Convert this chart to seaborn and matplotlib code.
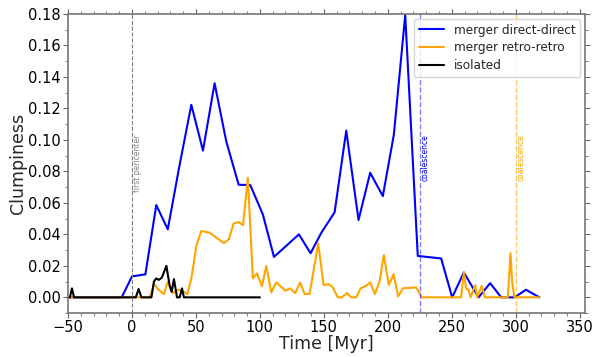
import matplotlib
matplotlib.use("Agg")
import matplotlib.pyplot as plt
import seaborn as sns
from matplotlib.ticker import MultipleLocator

# ---- data ----
t_direct = [-50, -8, 0, 10.5, 19, 28, 37, 46.4, 55.5, 64.6, 73.7, 83.4, 92.5, 102.3, 111, 120.6,
            130.5, 139.6, 148, 158.4, 167.5, 177.1, 186.2, 196.1, 204.7, 213.6, 223.4, 241.7,
            250.3, 259.4, 270.9, 280, 288.6, 299, 308, 318.5]
c_direct = [0, 0, 0.0133, 0.0146, 0.0586, 0.0432, 0.083, 0.1223, 0.0932, 0.136, 0.0991, 0.0715,
            0.0713, 0.0527, 0.0257, 0.0327, 0.040, 0.028, 0.041, 0.054, 0.1059, 0.0491, 0.0791,
            0.0643, 0.1033, 0.1793, 0.0263, 0.0247, 0.0, 0.0158, 0.0, 0.009, 0.0, 0.0, 0.0048, 0.0]

t_retro = [-50, 14, 17.2, 20.8, 25, 28, 32, 36, 39.4, 43.3, 46.6, 50.3, 54.2, 60.7, 71.9, 75.8,
           79.5, 83.4, 86.8, 90.6, 94.5, 97.7, 101.6, 105, 108.9, 112.8, 120, 123.7, 127.6,
           131.5, 134.9, 138.8, 145.6, 149.8, 153.7, 157, 160.9, 164, 168, 171.4, 175.3, 178.7,
           183.1, 186.2, 189.9, 193.5, 196.9, 200.8, 204.5, 208.1, 211.7, 222.2, 226.6, 257.3,
           259.4, 261.3, 263, 264.7, 268.3, 269.8, 273.4, 276, 293.8, 295.9, 297.2, 299, 318.5]
c_retro = [0, 0, 0.0084, 0.0048, 0.0021, 0.0099, 0.0027, 0.0048, 0.0042, 0.002, 0.0127, 0.0327,
           0.0421, 0.0411, 0.0344, 0.0369, 0.047, 0.0478, 0.0458, 0.0759, 0.012, 0.0152, 0.007,
           0.02, 0.0032, 0.0095, 0.0042, 0.0057, 0.0027, 0.0095, 0.0021, 0.0021, 0.0342, 0.0078,
           0.0084, 0.0063, 0.0, 0.0, 0.0027, 0.0, 0.0, 0.0057, 0.0073, 0.0095, 0.0021, 0.0099,
           0.0268, 0.0078, 0.0147, 0.0006, 0.0057, 0.0063, 0.0, 0.0, 0.0158, 0.0053, 0.005, 0.0,
           0.0078, 0.0, 0.0073, 0.0, 0.0, 0.028, 0.0095, 0.0, 0.0]

t_iso = [-50, -48.5, -46.9, -45.3, 3, 5.2, 7.4, 15.2, 17.2, 19, 21.1, 23.4, 26.9, 29.5, 31, 32.8,
         35.2, 37.3, 39.1, 40.6, 100]
c_iso = [0, 0, 0.0057, 0, 0, 0.0053, 0, 0, 0.0101, 0.012, 0.0111, 0.0126, 0.02, 0.0073, 0.0035,
         0.0116, 0, 0, 0.0057, 0, 0]

labels = ["merger direct-direct", "merger retro-retro", "isolated"]
colors = ["#0000ff", "#ffa500", "#000000"]

# ---- plot ----
sns.set_style("ticks")
plt.rcParams["font.family"] = ["DejaVu Sans"]

fig = plt.figure(figsize=(5.98, 3.57), dpi=100)
ax = fig.add_axes([0.1137, 0.123, 0.978 - 0.1137, 0.961 - 0.123])

for t, c, lab, col in zip([t_direct, t_retro, t_iso], [c_direct, c_retro, c_iso], labels, colors):
    sns.lineplot(x=t, y=c, ax=ax, color=col, label=lab, linewidth=1.5,
                 estimator=None, sort=False)

ax.axvline(0, color="gray", linestyle="--", linewidth=0.8)
ax.text(1, 0.1035, "first pericenter", rotation=90, color="gray", fontsize=5.5,
        va="top", ha="left")
ax.axvline(225, color="blue", linestyle="--", linewidth=1.0, alpha=0.5)
ax.text(226, 0.1035, "coalescence", rotation=90, color="blue", fontsize=5.5,
        va="top", ha="left")
ax.axvline(300, color="orange", linestyle="--", linewidth=1.0, alpha=0.6)
ax.text(301, 0.1035, "coalescence", rotation=90, color="orange", fontsize=5.5,
        va="top", ha="left")

ax.set_xlim(-50, 354)
ax.set_ylim(-0.01, 0.18)
ax.xaxis.set_major_locator(MultipleLocator(50))
ax.xaxis.set_minor_locator(MultipleLocator(10))
ax.yaxis.set_major_locator(MultipleLocator(0.02))
ax.yaxis.set_minor_locator(MultipleLocator(0.01))
ax.yaxis.set_major_formatter(matplotlib.ticker.FormatStrFormatter("%.2f"))
ax.tick_params(which="both", direction="out", top=True, right=True, labelsize=10.5,
               colors="#666666", labelcolor="black", pad=1.5)
ax.tick_params(which="major", length=3.5, width=0.8)
ax.tick_params(which="minor", length=2, width=0.6)
for s in ax.spines.values():
    s.set_color("#777777")
    s.set_linewidth(1.2)

ax.set_xlabel("Time [Myr]", fontsize=12.5, labelpad=0)
ax.set_ylabel("Clumpiness", fontsize=12.5, labelpad=1)

leg = ax.legend(loc="upper right", fontsize=8.7, frameon=True, fancybox=True,
                borderaxespad=0.4, handlelength=2.1, labelspacing=0.4)

fig.savefig("out.png", dpi=100)
